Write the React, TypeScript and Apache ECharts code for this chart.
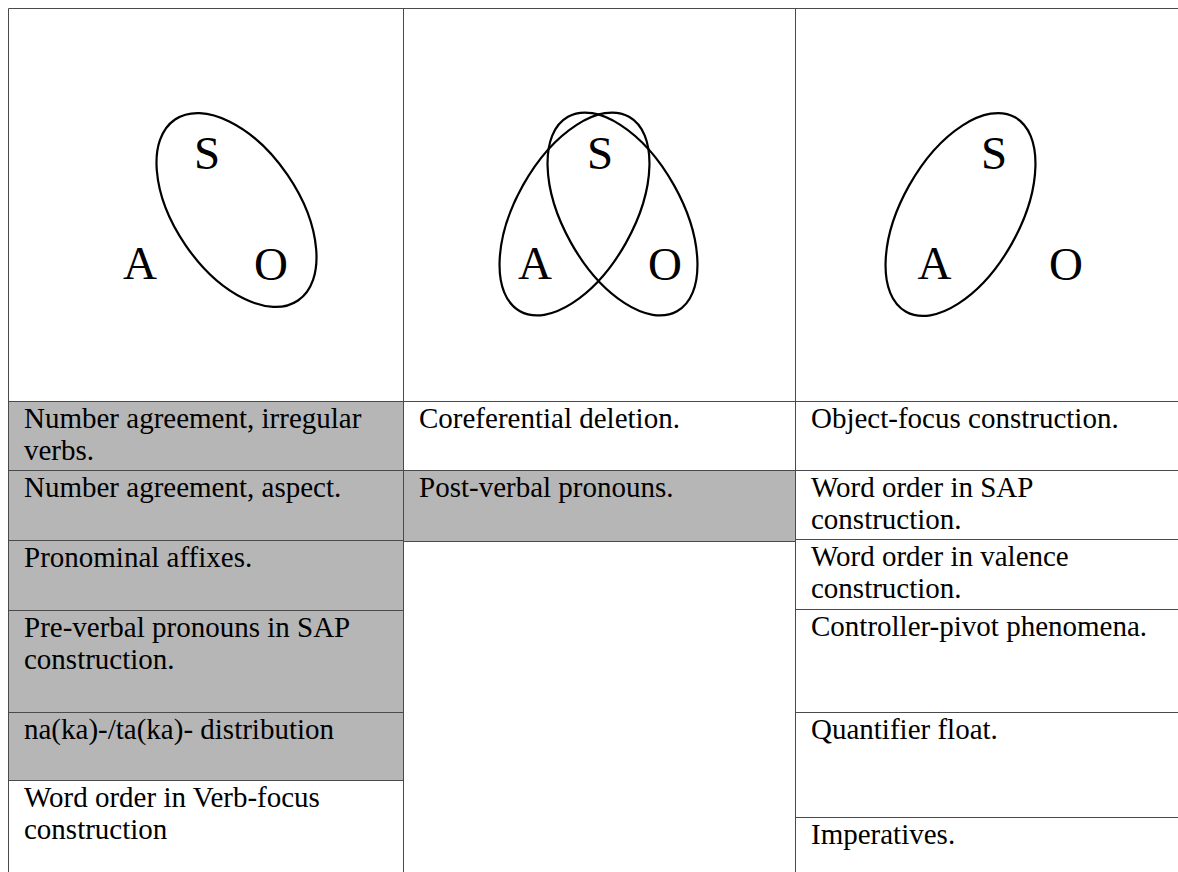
import React, { useEffect, useRef } from "react";
import * as echarts from "echarts";

// ---- content ----
const leftItems = [
  "Number agreement, irregular\nverbs.",
  "Number agreement, aspect.",
  "Pronominal affixes.",
  "Pre-verbal pronouns in SAP\nconstruction.",
  "na(ka)-/ta(ka)- distribution",
  "Word order in Verb-focus\nconstruction",
];
const leftShaded = [true, true, true, true, true, false];

const middleItems = ["Coreferential deletion.", "Post-verbal pronouns.", ""];
const middleShaded = [false, true, false];

const rightItems = [
  "Object-focus construction.",
  "Word order in SAP\nconstruction.",
  "Word order in valence\nconstruction.",
  "Controller-pivot phenomena.",
  "Quantifier float.",
  "Imperatives.",
];
const rightShaded = [false, false, false, false, false, false];

const roleLabels = ["S", "A", "O"];
// which roles are grouped together in each panel
const panelGroups = [[["S", "O"]], [["A", "S"], ["S", "O"]], [["A", "S"]]];

// ---- layout ----
const W = 1178;
const H = 872;
const colEdges = [8, 403, 795, 1178];
const tableTop = 8;
const headerBottom = 401;
const rowEdges = [
  [401, 470, 540, 610, 712, 780, 872],
  [401, 470, 541, 872],
  [401, 470, 539, 609, 712, 817, 872],
];
const letterPos: Record<string, [number, number]>[] = [
  { S: [207, 153], A: [140, 263], O: [271, 264] },
  { S: [600, 153], A: [535, 263], O: [665, 264] },
  { S: [994, 153], A: [934.5, 263], O: [1066, 264] },
];
// ellipse geometry per panel/group: cx, cy, semi-major, semi-minor, tilt (deg, clockwise on screen)
const ellipseGeom: Record<string, [number, number, number, number, number]>[] = [
  { "S-O": [236.5, 210, 109.4, 61.9, 55.8] },
  { "A-S": [574.5, 214, 111.5, 59, -60.75], "S-O": [622.5, 214, 111.5, 59, 60.75] },
  { "A-S": [960.5, 214.5, 111.5, 59, -60.75] },
];

const columns = [
  { items: leftItems, shaded: leftShaded },
  { items: middleItems, shaded: middleShaded },
  { items: rightItems, shaded: rightShaded },
];

const SERIF = "'Liberation Serif', 'Times New Roman', Times, serif";
const LINE = "#4a4a4a";
const SHADE = "#b6b6b6";

export default function App() {
  const ref = useRef<HTMLDivElement>(null);

  useEffect(() => {
    if (!ref.current) return;
    const chart = echarts.init(ref.current, undefined, { renderer: "svg" });

    // cells
    const cellData: number[][] = [];
    columns.forEach((col, c) => col.items.forEach((_, r) => cellData.push([c, r])));

    // grid lines
    const lineData: number[][] = [];
    lineData.push([colEdges[0], tableTop, W, tableTop]);
    lineData.push([colEdges[0], headerBottom, W, headerBottom]);
    colEdges.slice(0, 3).forEach((x) => lineData.push([x, tableTop, x, H]));
    rowEdges.forEach((edges, c) => {
      edges.slice(1, edges.length - 1).forEach((y) => {
        lineData.push([colEdges[c], y, colEdges[c + 1], y]);
      });
    });

    // ellipses
    const ellData: number[][] = [];
    panelGroups.forEach((groups, p) => {
      groups.forEach((g) => {
        const key = g.join("-");
        const e = ellipseGeom[p][key];
        if (e) ellData.push(e.slice());
      });
    });

    // letters
    const letterData: number[][] = [];
    letterPos.forEach((pos, p) => {
      roleLabels.forEach((lab, i) => {
        letterData.push([pos[lab][0], pos[lab][1], i, p]);
      });
    });

    chart.setOption({
      animation: false,
      backgroundColor: "#ffffff",
      grid: { left: 0, right: 0, top: 0, bottom: 0 },
      xAxis: { type: "value", min: 0, max: W, show: false },
      yAxis: { type: "value", min: 0, max: H, inverse: true, show: false },
      series: [
        {
          type: "custom",
          silent: true,
          data: cellData,
          encode: { x: [], y: [] },
          renderItem: (params: any, api: any) => {
            const c = api.value(0);
            const r = api.value(1);
            const col = columns[c];
            const x0 = colEdges[c];
            const x1 = colEdges[c + 1];
            const y0 = rowEdges[c][r];
            const y1 = rowEdges[c][r + 1];
            const p0 = api.coord([x0, y0]);
            const p1 = api.coord([x1, y1]);
            const children: any[] = [];
            if (col.shaded[r]) {
              children.push({
                type: "rect",
                shape: { x: p0[0], y: p0[1], width: p1[0] - p0[0], height: p1[1] - p0[1] },
                style: { fill: SHADE },
              });
            }
            if (col.items[r]) {
              children.push({
                type: "text",
                x: p0[0] + 16,
                y: p0[1] + 1,
                style: {
                  text: col.items[r],
                  fill: "#000",
                  fontFamily: SERIF,
                  fontSize: 29,
                  lineHeight: 32,
                  align: "left",
                  verticalAlign: "top",
                  textAlign: "left",
                  textVerticalAlign: "top",
                },
              });
            }
            return { type: "group", children };
          },
        },
        {
          type: "custom",
          silent: true,
          data: lineData,
          encode: { x: [0, 2], y: [1, 3] },
          renderItem: (params: any, api: any) => {
            const a = api.coord([api.value(0), api.value(1)]);
            const b = api.coord([api.value(2), api.value(3)]);
            return {
              type: "line",
              shape: { x1: a[0] + 0.5, y1: a[1] + 0.5, x2: b[0] + 0.5, y2: b[1] + 0.5 },
              style: { stroke: LINE, lineWidth: 1 },
            };
          },
        },
        {
          type: "custom",
          silent: true,
          data: ellData,
          encode: { x: 0, y: 1 },
          renderItem: (params: any, api: any) => {
            const ctr = api.coord([api.value(0), api.value(1)]);
            const a = api.value(2);
            const b = api.value(3);
            const deg = api.value(4);
            return {
              type: "ellipse",
              x: ctr[0],
              y: ctr[1],
              rotation: (-deg * Math.PI) / 180,
              shape: { cx: 0, cy: 0, rx: a, ry: b },
              style: { fill: "none", stroke: "#000", lineWidth: 2.2 },
            };
          },
        },
        {
          type: "custom",
          silent: true,
          data: letterData,
          encode: { x: 0, y: 1 },
          renderItem: (params: any, api: any) => {
            const p = api.coord([api.value(0), api.value(1)]);
            const lab = roleLabels[api.value(2)];
            return {
              type: "text",
              x: p[0],
              y: p[1],
              style: {
                text: lab,
                fill: "#000",
                fontFamily: SERIF,
                fontSize: 47,
                align: "center",
                verticalAlign: "middle",
                textAlign: "center",
                textVerticalAlign: "middle",
              },
            };
          },
        },
      ],
    });

    return () => chart.dispose();
  }, []);

  return (
    <div
      ref={ref}
      style={{ position: "absolute", left: 0, top: 0, width: W, height: H, background: "#fff" }}
    />
  );
}
